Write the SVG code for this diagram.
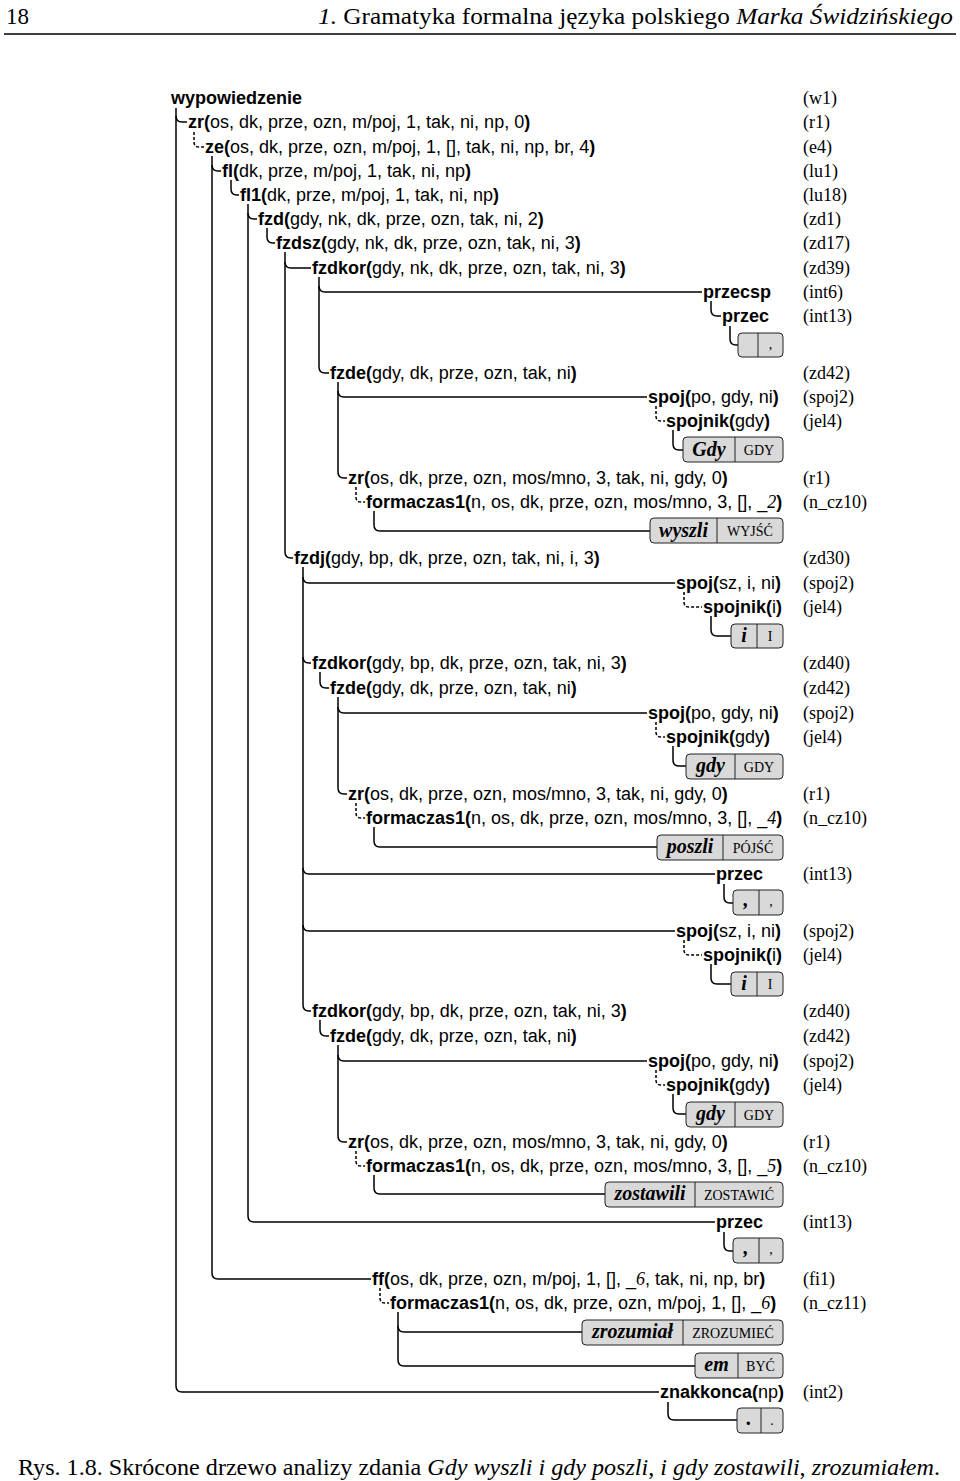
<svg xmlns="http://www.w3.org/2000/svg" width="960" height="1481" viewBox="0 0 960 1481">
<style>
.t{font-family:"Liberation Sans",Arial,sans-serif;font-size:18px;fill:#000}
.b{font-weight:bold}
.it{font-family:"Liberation Serif","Times New Roman",serif;font-style:italic}
.r{font-family:"Liberation Serif","Times New Roman",serif;font-size:18px;fill:#000}
.c path{fill:none;stroke:#000;stroke-width:1.5}
.c path.d{stroke-dasharray:3 2}
.bx{fill:#d9d9d9;stroke:#222;stroke-width:1}
.dv{stroke:#222;stroke-width:1}
.w{font-family:"Liberation Serif","Times New Roman",serif;font-weight:bold;font-style:italic;font-size:20px;text-anchor:middle;fill:#000}
.l{font-family:"Liberation Serif","Times New Roman",serif;font-size:14px;text-anchor:middle;fill:#000}
.hd{font-family:"Liberation Serif","Times New Roman",serif;font-size:23px;fill:#000}
</style>
<g id="header">
<text class="hd" x="6" y="24">18</text>
<text class="hd" x="318" y="24" textLength="635" lengthAdjust="spacingAndGlyphs"><tspan font-style="italic">1.</tspan> Gramatyka formalna języka polskiego <tspan font-style="italic">Marka Świdzińskiego</tspan></text>
<line x1="4" y1="34" x2="956" y2="34" stroke="#000" stroke-width="1.3"/>
</g>
<g id="connectors" class="c">
<path d="M176,108 V1386 Q176,1392 182,1392 H659"/>
<path d="M176,116 Q176,122 182,122 H187"/>
<path class="d" d="M194,132 V142 Q194,147 199,147 H204"/>
<path d="M212,156 V1273 Q212,1279 218,1279 H371"/>
<path d="M212,165 Q212,171 218,171 H221"/>
<path d="M231,180 V189 Q231,195 237,195 H239"/>
<path d="M248,204 V1216 Q248,1222 254,1222 H715"/>
<path d="M248,213 Q248,219 254,219 H257"/>
<path d="M267,228 V237 Q267,243 273,243 H275"/>
<path d="M285,252 V552 Q285,558 291,558 H293"/>
<path d="M285,262 Q285,268 291,268 H311"/>
<path d="M319,277 V367 Q319,373 325,373 H329"/>
<path d="M319,286 Q319,292 325,292 H702"/>
<path d="M711,301 V310 Q711,316 717,316 H721"/>
<path d="M730,326 V339 Q730,345 736,345 H738"/>
<path d="M338,382 V472 Q338,478 344,478 H347"/>
<path d="M338,391 Q338,397 344,397 H647"/>
<path class="d" d="M656,406 V416 Q656,421 661,421 H665"/>
<path d="M673,430 V444 Q673,450 679,450 H683"/>
<path class="d" d="M356,487 V497 Q356,502 361,502 H365"/>
<path d="M374,511 V525 Q374,531 380,531 H650"/>
<path d="M303,567 V1005 Q303,1011 309,1011 H311"/>
<path d="M303,577 Q303,583 309,583 H675"/>
<path d="M303,657 Q303,663 309,663 H311"/>
<path d="M303,868 Q303,874 309,874 H715"/>
<path d="M303,925 Q303,931 309,931 H675"/>
<path class="d" d="M684,592 V602 Q684,607 689,607 H702"/>
<path d="M711,616 V630 Q711,636 717,636 H731"/>
<path d="M320,672 V682 Q320,688 326,688 H329"/>
<path d="M338,697 V788 Q338,794 344,794 H347"/>
<path d="M338,707 Q338,713 344,713 H647"/>
<path class="d" d="M656,722 V732 Q656,737 661,737 H665"/>
<path d="M673,746 V760 Q673,766 679,766 H686"/>
<path class="d" d="M356,803 V813 Q356,818 361,818 H365"/>
<path d="M374,827 V841 Q374,847 380,847 H657"/>
<path d="M724,884 V897 Q724,903 730,903 H733"/>
<path class="d" d="M684,940 V950 Q684,955 689,955 H702"/>
<path d="M711,964 V978 Q711,984 717,984 H731"/>
<path d="M320,1020 V1030 Q320,1036 326,1036 H329"/>
<path d="M338,1045 V1136 Q338,1142 344,1142 H347"/>
<path d="M338,1055 Q338,1061 344,1061 H647"/>
<path class="d" d="M656,1070 V1080 Q656,1085 661,1085 H665"/>
<path d="M673,1094 V1108 Q673,1114 679,1114 H686"/>
<path class="d" d="M356,1151 V1161 Q356,1166 361,1166 H365"/>
<path d="M374,1175 V1188 Q374,1194 380,1194 H605"/>
<path d="M724,1232 V1245 Q724,1251 730,1251 H733"/>
<path class="d" d="M380,1288 V1298 Q380,1303 385,1303 H389"/>
<path d="M398,1312 V1360 Q398,1366 404,1366 H695"/>
<path d="M398,1326 Q398,1332 404,1332 H582"/>
<path d="M668,1402 V1414 Q668,1420 674,1420 H737"/>
</g>
<g id="n-wypowiedzenie"><text class="t b" x="171" y="104">wypowiedzenie</text><text class="r" x="803" y="104">(w1)</text></g>
<g id="n-zr1"><text class="t" x="188" y="128"><tspan class="b">zr(</tspan>os, dk, prze, ozn, m/poj, 1, tak, ni, np, 0<tspan class="b">)</tspan></text><text class="r" x="803" y="128">(r1)</text></g>
<g id="n-ze"><text class="t" x="205" y="153"><tspan class="b">ze(</tspan>os, dk, prze, ozn, m/poj, 1, [], tak, ni, np, br, 4<tspan class="b">)</tspan></text><text class="r" x="803" y="153">(e4)</text></g>
<g id="n-fl"><text class="t" x="222" y="177"><tspan class="b">fl(</tspan>dk, prze, m/poj, 1, tak, ni, np<tspan class="b">)</tspan></text><text class="r" x="803" y="177">(lu1)</text></g>
<g id="n-fl1"><text class="t" x="240" y="201"><tspan class="b">fl1(</tspan>dk, prze, m/poj, 1, tak, ni, np<tspan class="b">)</tspan></text><text class="r" x="803" y="201">(lu18)</text></g>
<g id="n-fzd"><text class="t" x="258" y="225"><tspan class="b">fzd(</tspan>gdy, nk, dk, prze, ozn, tak, ni, 2<tspan class="b">)</tspan></text><text class="r" x="803" y="225">(zd1)</text></g>
<g id="n-fzdsz"><text class="t" x="276" y="249"><tspan class="b">fzdsz(</tspan>gdy, nk, dk, prze, ozn, tak, ni, 3<tspan class="b">)</tspan></text><text class="r" x="803" y="249">(zd17)</text></g>
<g id="n-fzdkor1"><text class="t" x="312" y="274"><tspan class="b">fzdkor(</tspan>gdy, nk, dk, prze, ozn, tak, ni, 3<tspan class="b">)</tspan></text><text class="r" x="803" y="274">(zd39)</text></g>
<g id="n-przecsp"><text class="t b" x="703" y="298">przecsp</text><text class="r" x="803" y="298">(int6)</text></g>
<g id="n-przec1"><text class="t b" x="722" y="322">przec</text><text class="r" x="803" y="322">(int13)</text></g>
<g id="n-box1"><rect class="bx" x="738" y="333" width="45" height="24" rx="4"/><line class="dv" x1="758" y1="333" x2="758" y2="357"/><text class="l" x="770.5" y="349">,</text></g>
<g id="n-fzde1"><text class="t" x="330" y="379"><tspan class="b">fzde(</tspan>gdy, dk, prze, ozn, tak, ni<tspan class="b">)</tspan></text><text class="r" x="803" y="379">(zd42)</text></g>
<g id="n-spoj1"><text class="t" x="648" y="403"><tspan class="b">spoj(</tspan>po, gdy, ni<tspan class="b">)</tspan></text><text class="r" x="803" y="403">(spoj2)</text></g>
<g id="n-spojnik1"><text class="t" x="666" y="427"><tspan class="b">spojnik(</tspan>gdy<tspan class="b">)</tspan></text><text class="r" x="803" y="427">(jel4)</text></g>
<g id="n-box2"><rect class="bx" x="683" y="437" width="100" height="25" rx="4"/><line class="dv" x1="735" y1="437" x2="735" y2="462"/><text class="w" x="709" y="456">Gdy</text><text class="l" x="759" y="455">GDY</text></g>
<g id="n-zr2"><text class="t" x="348" y="484"><tspan class="b">zr(</tspan>os, dk, prze, ozn, mos/mno, 3, tak, ni, gdy, 0<tspan class="b">)</tspan></text><text class="r" x="803" y="484">(r1)</text></g>
<g id="n-fc1"><text class="t" x="366" y="508"><tspan class="b">formaczas1(</tspan>n, os, dk, prze, ozn, mos/mno, 3, [], _<tspan class="it">2</tspan><tspan class="b">)</tspan></text><text class="r" x="803" y="508">(n_cz10)</text></g>
<g id="n-box3"><rect class="bx" x="650" y="518" width="133" height="25" rx="4"/><line class="dv" x1="717" y1="518" x2="717" y2="543"/><text class="w" x="683.5" y="537">wyszli</text><text class="l" x="750" y="536">WYJŚĆ</text></g>
<g id="n-fzdj"><text class="t" x="294" y="564"><tspan class="b">fzdj(</tspan>gdy, bp, dk, prze, ozn, tak, ni, i, 3<tspan class="b">)</tspan></text><text class="r" x="803" y="564">(zd30)</text></g>
<g id="n-spoj2"><text class="t" x="676" y="589"><tspan class="b">spoj(</tspan>sz, i, ni<tspan class="b">)</tspan></text><text class="r" x="803" y="589">(spoj2)</text></g>
<g id="n-spojnik2"><text class="t" x="703" y="613"><tspan class="b">spojnik(</tspan>i<tspan class="b">)</tspan></text><text class="r" x="803" y="613">(jel4)</text></g>
<g id="n-box4"><rect class="bx" x="731" y="624" width="52" height="24" rx="4"/><line class="dv" x1="757" y1="624" x2="757" y2="648"/><text class="w" x="744" y="642">i</text><text class="l" x="770" y="641">I</text></g>
<g id="n-fzdkor2"><text class="t" x="312" y="669"><tspan class="b">fzdkor(</tspan>gdy, bp, dk, prze, ozn, tak, ni, 3<tspan class="b">)</tspan></text><text class="r" x="803" y="669">(zd40)</text></g>
<g id="n-fzde2"><text class="t" x="330" y="694"><tspan class="b">fzde(</tspan>gdy, dk, prze, ozn, tak, ni<tspan class="b">)</tspan></text><text class="r" x="803" y="694">(zd42)</text></g>
<g id="n-spoj3"><text class="t" x="648" y="719"><tspan class="b">spoj(</tspan>po, gdy, ni<tspan class="b">)</tspan></text><text class="r" x="803" y="719">(spoj2)</text></g>
<g id="n-spojnik3"><text class="t" x="666" y="743"><tspan class="b">spojnik(</tspan>gdy<tspan class="b">)</tspan></text><text class="r" x="803" y="743">(jel4)</text></g>
<g id="n-box5"><rect class="bx" x="686" y="754" width="97" height="25" rx="4"/><line class="dv" x1="735" y1="754" x2="735" y2="779"/><text class="w" x="710.5" y="772">gdy</text><text class="l" x="759" y="772">GDY</text></g>
<g id="n-zr3"><text class="t" x="348" y="800"><tspan class="b">zr(</tspan>os, dk, prze, ozn, mos/mno, 3, tak, ni, gdy, 0<tspan class="b">)</tspan></text><text class="r" x="803" y="800">(r1)</text></g>
<g id="n-fc2"><text class="t" x="366" y="824"><tspan class="b">formaczas1(</tspan>n, os, dk, prze, ozn, mos/mno, 3, [], _<tspan class="it">4</tspan><tspan class="b">)</tspan></text><text class="r" x="803" y="824">(n_cz10)</text></g>
<g id="n-box6"><rect class="bx" x="657" y="835" width="126" height="25" rx="4"/><line class="dv" x1="723" y1="835" x2="723" y2="860"/><text class="w" x="690" y="853">poszli</text><text class="l" x="753" y="853">PÓJŚĆ</text></g>
<g id="n-przec2"><text class="t b" x="716" y="880">przec</text><text class="r" x="803" y="880">(int13)</text></g>
<g id="n-box7"><rect class="bx" x="733" y="890" width="50" height="25" rx="4"/><line class="dv" x1="759" y1="890" x2="759" y2="915"/><text class="w" x="746" y="906">,</text><text class="l" x="771" y="906">,</text></g>
<g id="n-spoj4"><text class="t" x="676" y="937"><tspan class="b">spoj(</tspan>sz, i, ni<tspan class="b">)</tspan></text><text class="r" x="803" y="937">(spoj2)</text></g>
<g id="n-spojnik4"><text class="t" x="703" y="961"><tspan class="b">spojnik(</tspan>i<tspan class="b">)</tspan></text><text class="r" x="803" y="961">(jel4)</text></g>
<g id="n-box8"><rect class="bx" x="731" y="972" width="52" height="24" rx="4"/><line class="dv" x1="757" y1="972" x2="757" y2="996"/><text class="w" x="744" y="990">i</text><text class="l" x="770" y="989">I</text></g>
<g id="n-fzdkor3"><text class="t" x="312" y="1017"><tspan class="b">fzdkor(</tspan>gdy, bp, dk, prze, ozn, tak, ni, 3<tspan class="b">)</tspan></text><text class="r" x="803" y="1017">(zd40)</text></g>
<g id="n-fzde3"><text class="t" x="330" y="1042"><tspan class="b">fzde(</tspan>gdy, dk, prze, ozn, tak, ni<tspan class="b">)</tspan></text><text class="r" x="803" y="1042">(zd42)</text></g>
<g id="n-spoj5"><text class="t" x="648" y="1067"><tspan class="b">spoj(</tspan>po, gdy, ni<tspan class="b">)</tspan></text><text class="r" x="803" y="1067">(spoj2)</text></g>
<g id="n-spojnik5"><text class="t" x="666" y="1091"><tspan class="b">spojnik(</tspan>gdy<tspan class="b">)</tspan></text><text class="r" x="803" y="1091">(jel4)</text></g>
<g id="n-box9"><rect class="bx" x="686" y="1102" width="97" height="25" rx="4"/><line class="dv" x1="735" y1="1102" x2="735" y2="1127"/><text class="w" x="710.5" y="1120">gdy</text><text class="l" x="759" y="1120">GDY</text></g>
<g id="n-zr4"><text class="t" x="348" y="1148"><tspan class="b">zr(</tspan>os, dk, prze, ozn, mos/mno, 3, tak, ni, gdy, 0<tspan class="b">)</tspan></text><text class="r" x="803" y="1148">(r1)</text></g>
<g id="n-fc3"><text class="t" x="366" y="1172"><tspan class="b">formaczas1(</tspan>n, os, dk, prze, ozn, mos/mno, 3, [], _<tspan class="it">5</tspan><tspan class="b">)</tspan></text><text class="r" x="803" y="1172">(n_cz10)</text></g>
<g id="n-box10"><rect class="bx" x="605" y="1182" width="178" height="25" rx="4"/><line class="dv" x1="695" y1="1182" x2="695" y2="1207"/><text class="w" x="650" y="1200">zostawili</text><text class="l" x="739" y="1200">ZOSTAWIĆ</text></g>
<g id="n-przec3"><text class="t b" x="716" y="1228">przec</text><text class="r" x="803" y="1228">(int13)</text></g>
<g id="n-box11"><rect class="bx" x="733" y="1238" width="50" height="25" rx="4"/><line class="dv" x1="759" y1="1238" x2="759" y2="1263"/><text class="w" x="746" y="1254">,</text><text class="l" x="771" y="1254">,</text></g>
<g id="n-ff"><text class="t" x="372" y="1285"><tspan class="b">ff(</tspan>os, dk, prze, ozn, m/poj, 1, [], _<tspan class="it">6</tspan>, tak, ni, np, br<tspan class="b">)</tspan></text><text class="r" x="803" y="1285">(fi1)</text></g>
<g id="n-fc4"><text class="t" x="390" y="1309"><tspan class="b">formaczas1(</tspan>n, os, dk, prze, ozn, m/poj, 1, [], _<tspan class="it">6</tspan><tspan class="b">)</tspan></text><text class="r" x="803" y="1309">(n_cz11)</text></g>
<g id="n-box12"><rect class="bx" x="582" y="1320" width="201" height="25" rx="4"/><line class="dv" x1="683" y1="1320" x2="683" y2="1345"/><text class="w" x="632.5" y="1338">zrozumiał</text><text class="l" x="733" y="1338">ZROZUMIEĆ</text></g>
<g id="n-box13"><rect class="bx" x="695" y="1353" width="88" height="25" rx="4"/><line class="dv" x1="738" y1="1353" x2="738" y2="1378"/><text class="w" x="716.5" y="1371">em</text><text class="l" x="760.5" y="1371">BYĆ</text></g>
<g id="n-znakkonca"><text class="t" x="660" y="1398"><tspan class="b">znakkonca(</tspan>np<tspan class="b">)</tspan></text><text class="r" x="803" y="1398">(int2)</text></g>
<g id="n-box14"><rect class="bx" x="737" y="1408" width="46" height="25" rx="4"/><line class="dv" x1="761" y1="1408" x2="761" y2="1433"/><text class="w" x="749" y="1425">.</text><text class="l" x="772" y="1425">.</text></g>
<g id="caption"><text class="hd" x="18" y="1475" textLength="922" lengthAdjust="spacingAndGlyphs">Rys. 1.8. Skrócone drzewo analizy zdania <tspan font-style="italic">Gdy wyszli i gdy poszli</tspan>, <tspan font-style="italic">i gdy zostawili</tspan>, <tspan font-style="italic">zrozumiałem</tspan>.</text></g>
</svg>
